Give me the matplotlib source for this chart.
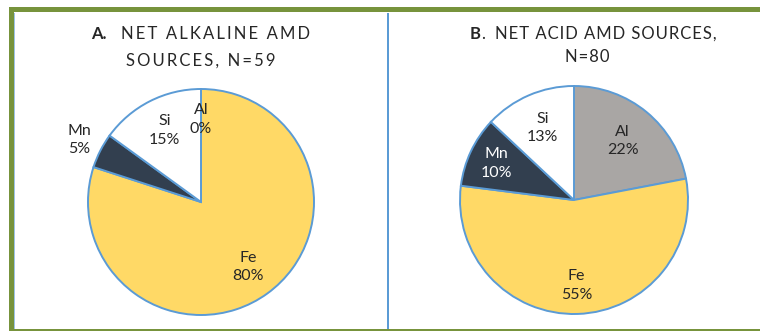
import matplotlib.pyplot as plt
import numpy as np
from matplotlib.patches import Rectangle

W, H = 760, 331

elements = ['Al', 'Fe', 'Mn', 'Si']
alkaline_pct = [0, 80, 5, 15]
acid_pct = [22, 55, 10, 13]
colors = ['#A9A6A4', '#FFD966', '#323F4F', '#FFFFFF']

edge_blue = '#5B9BD5'
frame_green = '#77933C'
text_col = '#262626'

plt.rcParams['font.family'] = ['Lato', 'DejaVu Sans']


def fx(px):
    return px / W


def fy(py):
    return (H - py) / H


def spaced(s, gap='\u2009'):
    # Excel-style wide tracking on the titles
    return gap.join(s)


def draw_pie(fig, cx, cy, r, values, label_dist):
    half = 125
    ax = fig.add_axes([fx(cx - half), fy(cy + half), 2 * half / W, 2 * half / H])
    wedges, _ = ax.pie(values, colors=colors, startangle=90, counterclock=False,
                       radius=1, wedgeprops=dict(edgecolor=edge_blue, linewidth=1.4))
    ax.set_xlim(-half / r, half / r)
    ax.set_ylim(-half / r, half / r)
    ax.axis('off')
    for w, name, v, d, c in zip(wedges, elements, values, label_dist, colors):
        mid = np.deg2rad((w.theta1 + w.theta2) / 2)
        # white label when it sits inside the dark slice
        col = 'white' if (c == '#323F4F' and d < 1) else text_col
        ax.text(d * np.cos(mid), d * np.sin(mid), f'{name}\n{v}%',
                ha='center', va='center', fontsize=11.5, color=col,
                linespacing=1.4)
    return ax


fig = plt.figure(figsize=(7.6, 3.31), dpi=100)

# outer green frame and the blue divider between the panels
fig.add_artist(Rectangle((fx(9), fy(331)), 5 / W, 324 / H,
                         transform=fig.transFigure, color=frame_green, lw=0))
fig.add_artist(Rectangle((fx(9), fy(12)), 1, 5 / H, transform=fig.transFigure,
                         color=frame_green, lw=0))
fig.add_artist(Rectangle((fx(9), fy(331)), 1, 2.5 / H, transform=fig.transFigure,
                         color=frame_green, lw=0))
fig.add_artist(Rectangle((fx(14), fy(328.5)), 1.2 / W, 316 / H, transform=fig.transFigure,
                         color='#9DC3E6', lw=0))
fig.add_artist(Rectangle((fx(387.5), fy(328.5)), 2 / W, 316 / H, transform=fig.transFigure,
                         color=edge_blue, lw=0))

# pies
draw_pie(fig, 201, 202, 113, alkaline_pct, [0.73, 0.71, 1.21, 0.71])
draw_pie(fig, 574, 200, 114, acid_pct, [0.67, 0.75, 0.75, 0.69])

# titles
tkw = dict(fontsize=12, color='#262626', va='center')
fig.text(fx(107), fy(34), 'A.', ha='right', fontweight='bold', **tkw)
fig.text(fx(121), fy(34), spaced('NET ALKALINE AMD'), ha='left', **tkw)
fig.text(fx(201), fy(61), spaced('SOURCES, N=59'), ha='center', **tkw)

fig.text(fx(481), fy(34), 'B', ha='right', fontweight='bold', **tkw)
fig.text(fx(481), fy(34), '.', ha='left', **tkw)
fig.text(fx(495), fy(34), spaced('NET ACID AMD SOURCES,', '\u200a'), ha='left', **tkw)
fig.text(fx(587), fy(57), spaced('N=80', '\u200a'), ha='center', **tkw)

fig.savefig('out.png', dpi=100)
